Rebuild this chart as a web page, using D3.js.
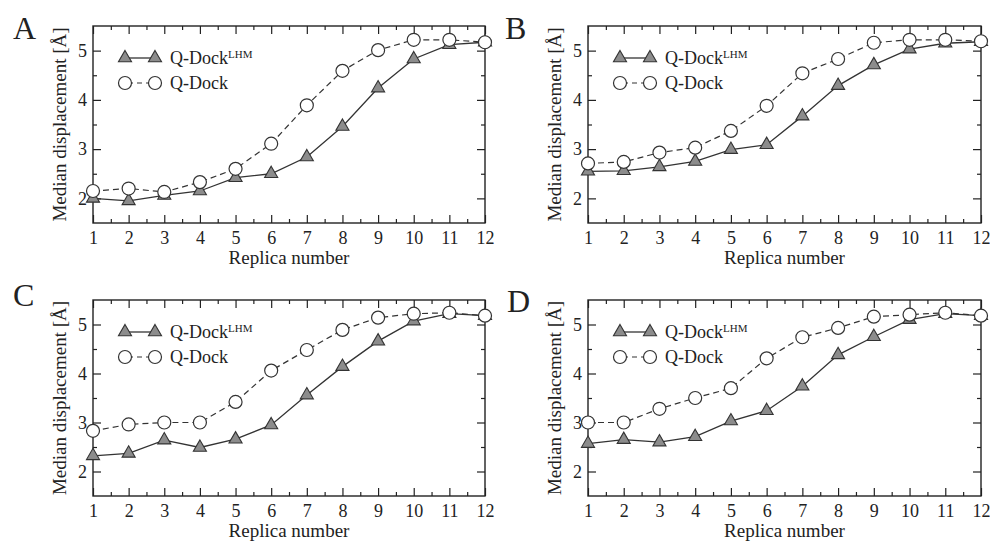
<!DOCTYPE html>
<html>
<head>
<meta charset="utf-8">
<script src="https://cdn.jsdelivr.net/npm/d3@7"></script>
<style>
  html, body { margin: 0; padding: 0; background: #fff; }
  svg { display: block; }
  text { font-family: "Liberation Serif", "Times New Roman", serif; fill: #222; }
</style>
</head>
<body>
<svg id="fig" width="990" height="544"></svg>
<script>
// Replica index on the x axis
const replicas = [1, 2, 3, 4, 5, 6, 7, 8, 9, 10, 11, 12];
const xTicks = [1, 2, 3, 4, 5, 6, 7, 8, 9, 10, 11, 12];
const yTicks = [2, 3, 4, 5];
const panelNames = ["A", "B", "C", "D"];

// Median displacement [Å] per replica, Q-Dock^LHM (filled triangles)
const lhmA = [2.00, 1.95, 2.06, 2.15, 2.42, 2.50, 2.84, 3.46, 4.24, 4.83, 5.12, 5.17];
const lhmB = [2.55, 2.56, 2.64, 2.75, 2.99, 3.09, 3.67, 4.29, 4.71, 5.03, 5.15, 5.18];
const lhmC = [2.32, 2.37, 2.64, 2.49, 2.66, 2.95, 3.56, 4.14, 4.66, 5.07, 5.22, 5.18];
const lhmD = [2.57, 2.65, 2.60, 2.71, 3.03, 3.24, 3.74, 4.38, 4.75, 5.10, 5.22, 5.18];

// Median displacement [Å] per replica, Q-Dock (open circles)
const qdockA = [2.15, 2.20, 2.13, 2.33, 2.60, 3.11, 3.89, 4.59, 5.01, 5.22, 5.22, 5.17];
const qdockB = [2.71, 2.74, 2.93, 3.03, 3.37, 3.88, 4.54, 4.83, 5.16, 5.22, 5.22, 5.19];
const qdockC = [2.83, 2.96, 3.00, 3.00, 3.42, 4.06, 4.48, 4.89, 5.14, 5.22, 5.24, 5.18];
const qdockD = [3.00, 3.00, 3.28, 3.50, 3.70, 4.31, 4.74, 4.93, 5.16, 5.20, 5.24, 5.18];

const lhmSeries = [lhmA, lhmB, lhmC, lhmD];
const qdockSeries = [qdockA, qdockB, qdockC, qdockD];

// Layout of the four panels
const frames = [
  { x: 93,  y: 26,  w: 392, h: 197, lx: 13,  ly: 39 },
  { x: 588, y: 26,  w: 393, h: 197, lx: 505, ly: 39 },
  { x: 93,  y: 300, w: 392, h: 196, lx: 13,  ly: 306 },
  { x: 588, y: 300, w: 393, h: 196, lx: 507, ly: 312 }
];

const ink = "#222";
const svg = d3.select("#fig");

const triSym = d3.symbol().type(d3.symbolTriangle).size(74);

function drawPanel(i) {
  const f = frames[i];
  const g = svg.append("g").attr("transform", `translate(${f.x},${f.y})`);

  const x = d3.scaleLinear().domain([1, 12]).range([0, f.w]);
  const y = d3.scaleLinear().domain([1.5, 5.5]).range([f.h, 0]);

  const minorX = d3.range(1.5, 12, 1);
  const minorY = [2.5, 3.5, 4.5];

  // Axes with inward ticks on all four sides
  g.append("g").attr("transform", `translate(0,${f.h})`)
    .call(d3.axisBottom(x).tickValues(xTicks).tickSize(-8).tickPadding(8).tickFormat(d3.format("d")));
  g.append("g").attr("transform", `translate(0,${f.h})`)
    .call(d3.axisBottom(x).tickValues(minorX).tickSize(-4).tickFormat(""));
  g.append("g").call(d3.axisTop(x).tickValues(xTicks).tickSize(-8).tickFormat(""));
  g.append("g").call(d3.axisTop(x).tickValues(minorX).tickSize(-4).tickFormat(""));

  g.append("g").call(d3.axisLeft(y).tickValues(yTicks).tickSize(-8).tickPadding(6).tickFormat(d3.format("d")));
  g.append("g").call(d3.axisLeft(y).tickValues(minorY).tickSize(-4).tickFormat(""));
  g.append("g").attr("transform", `translate(${f.w},0)`)
    .call(d3.axisRight(y).tickValues(yTicks).tickSize(-8).tickFormat(""));
  g.append("g").attr("transform", `translate(${f.w},0)`)
    .call(d3.axisRight(y).tickValues(minorY).tickSize(-4).tickFormat(""));

  g.selectAll(".domain").remove();
  g.selectAll(".tick line").attr("stroke", ink).attr("stroke-width", 1.2);
  g.selectAll(".tick text")
    .attr("fill", ink)
    .style("font-family", "'Liberation Serif', serif")
    .style("font-size", "18px");

  // Frame
  g.append("rect").attr("x", 0).attr("y", 0).attr("width", f.w).attr("height", f.h)
    .attr("fill", "none").attr("stroke", ink).attr("stroke-width", 1.4);

  // Axis titles
  g.append("text").attr("x", f.w / 2).attr("y", f.h + 41)
    .attr("text-anchor", "middle").style("font-size", "19px").text("Replica number");
  g.append("text")
    .attr("transform", `translate(-27,${f.h / 2}) rotate(-90)`)
    .attr("text-anchor", "middle").style("font-size", "19px")
    .text("Median displacement [Å]");

  // Panel letter
  svg.append("text").attr("x", f.lx).attr("y", f.ly)
    .style("font-size", "32px").text(panelNames[i]);

  const line = d3.line().x((d, k) => x(replicas[k])).y(d => y(d));

  // Q-Dock^LHM: solid line with grey triangles
  const lhm = lhmSeries[i];
  g.append("path").datum(lhm).attr("d", line)
    .attr("fill", "none").attr("stroke", "#333").attr("stroke-width", 1.3);
  g.selectAll(".tri").data(lhm).enter().append("path")
    .attr("class", "tri")
    .attr("transform", (d, k) => `translate(${x(replicas[k])},${y(d)})`)
    .attr("d", triSym)
    .attr("fill", "#8c8c8c").attr("stroke", "#333").attr("stroke-width", 1.1);

  // Q-Dock: dashed line with open circles
  const qd = qdockSeries[i];
  g.append("path").datum(qd).attr("d", line)
    .attr("fill", "none").attr("stroke", "#333").attr("stroke-width", 1.2)
    .attr("stroke-dasharray", "6,4");
  g.selectAll(".circ").data(qd).enter().append("circle")
    .attr("class", "circ")
    .attr("cx", (d, k) => x(replicas[k])).attr("cy", d => y(d)).attr("r", 6.5)
    .attr("fill", "#fff").attr("stroke", "#333").attr("stroke-width", 1.2);

  // Legend
  const leg = g.append("g").attr("transform", "translate(30,32)");
  leg.append("line").attr("x1", 2).attr("x2", 32).attr("y1", 0).attr("y2", 0)
    .attr("stroke", "#333").attr("stroke-width", 1.3);
  [2, 32].forEach(px => leg.append("path").attr("transform", `translate(${px},0)`)
    .attr("d", triSym).attr("fill", "#8c8c8c").attr("stroke", "#333").attr("stroke-width", 1.1));
  const t1 = leg.append("text").attr("x", 47).attr("y", 6).style("font-size", "18px");
  t1.append("tspan").text("Q-Dock");
  t1.append("tspan").attr("dy", -6).style("font-size", "11px").text("LHM");

  leg.append("line").attr("x1", 2).attr("x2", 32).attr("y1", 25).attr("y2", 25)
    .attr("stroke", "#333").attr("stroke-width", 1.2).attr("stroke-dasharray", "5,4")
    .attr("stroke-dashoffset", -3);
  [2, 32].forEach(px => leg.append("circle").attr("cx", px).attr("cy", 25).attr("r", 6.5)
    .attr("fill", "#fff").attr("stroke", "#333").attr("stroke-width", 1.2));
  leg.append("text").attr("x", 47).attr("y", 31).style("font-size", "18px").text("Q-Dock");
}

for (let i = 0; i < 4; i++) drawPanel(i);
</script>
</body>
</html>
